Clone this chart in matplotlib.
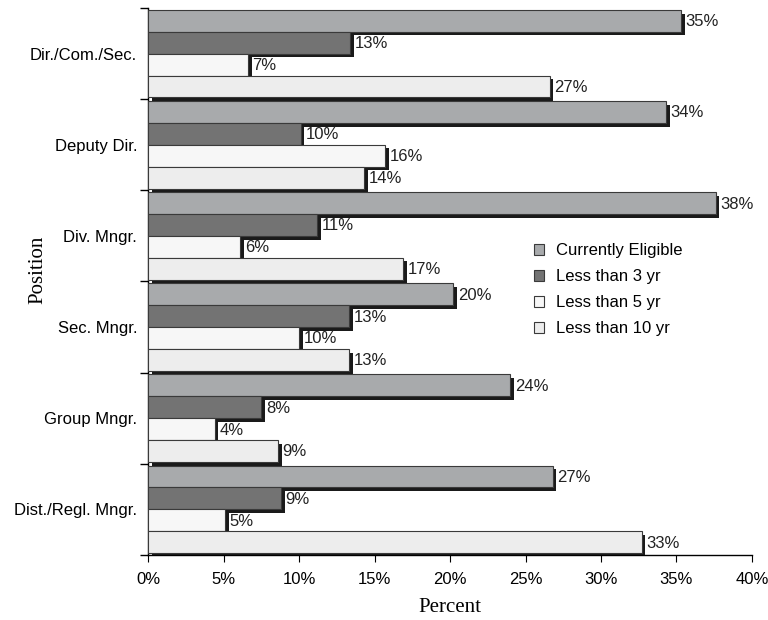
import numpy as np
import matplotlib.pyplot as plt
from matplotlib.ticker import FixedLocator, PercentFormatter

positions = ["Dir./Com./Sec.", "Deputy Dir.", "Div. Mngr.", "Sec. Mngr.",
             "Group Mngr.", "Dist./Regl. Mngr."]
series = ["Currently Eligible", "Less than 3 yr", "Less than 5 yr", "Less than 10 yr"]

eligible = [35.3, 34.3, 37.6, 20.2, 24.0, 26.8]
lt3 = [13.4, 10.1, 11.2, 13.3, 7.5, 8.8]
lt5 = [6.6, 15.7, 6.1, 10.0, 4.4, 5.1]
lt10 = [26.6, 14.3, 16.9, 13.3, 8.6, 32.7]
labels = [
    ["35%", "34%", "38%", "20%", "24%", "27%"],
    ["13%", "10%", "11%", "13%", "8%", "9%"],
    ["7%", "16%", "6%", "10%", "4%", "5%"],
    ["27%", "14%", "17%", "13%", "9%", "33%"],
]
values = [eligible, lt3, lt5, lt10]
colors = ["#a8aaac", "#737373", "#f7f7f7", "#ededed"]

plt.rcParams['font.family'] = ['Liberation Sans', 'DejaVu Sans']

fig = plt.figure(figsize=(7.68, 6.2), dpi=100)
ax = fig.add_axes([0.193, 0.105, 0.786, 0.882])

n = len(positions)
centers = np.arange(n)[::-1].astype(float)
h = 0.24
offs = [0.36, 0.12, -0.12, -0.36]
dx = 0.25   # shadow offset in percent
dy = 0.04   # shadow offset in category units

z = 2
handles = []
for ci in range(n):
    for si in range(4):
        y = centers[ci] + offs[si]
        v = values[si][ci]
        # drop shadow then the bar itself
        ax.barh(y - dy, v, height=h, left=dx, color="#1a1a1a", zorder=z)
        b = ax.barh(y, v, height=h, color=colors[si], edgecolor="#3a3a3a",
                    linewidth=0.8, zorder=z + 1)
        if ci == 0:
            handles.append(b)
        ax.text(v + dx + 0.06, y - 0.01, labels[si][ci], va="center", ha="left",
                fontsize=12, color="#222222", zorder=z + 2)
        z += 3

ax.set_xlim(0, 40)
ax.set_ylim(-0.5, n - 0.5)
ax.set_xticks(np.arange(0, 41, 5))
ax.xaxis.set_major_formatter(PercentFormatter(decimals=0))
ax.set_yticks(centers)
ax.set_yticklabels(positions)
ax.yaxis.set_minor_locator(FixedLocator(np.arange(-0.5, n, 1.0)))
ax.tick_params(axis="y", which="major", length=0, pad=8, labelsize=12)
ax.tick_params(axis="y", which="minor", length=6, direction="out", width=1)
ax.tick_params(axis="x", length=5, direction="out", labelsize=12, pad=7)

for s in ["top", "right"]:
    ax.spines[s].set_visible(False)
ax.spines["left"].set_linewidth(1.0)
ax.spines["bottom"].set_linewidth(1.0)

ax.set_xlabel("Percent", fontsize=15, family=["Liberation Serif"], labelpad=8)
ax.set_ylabel("Position", fontsize=15, family=["Liberation Serif"])
ax.yaxis.set_label_coords(-0.167, 0.521)

ax.legend(handles, series, loc="upper left", bbox_to_anchor=(0.615, 0.597),
          frameon=False, fontsize=12, handlelength=0.6, handleheight=0.6,
          labelspacing=0.66, handletextpad=0.7)

fig.savefig("out.png", dpi=100)
